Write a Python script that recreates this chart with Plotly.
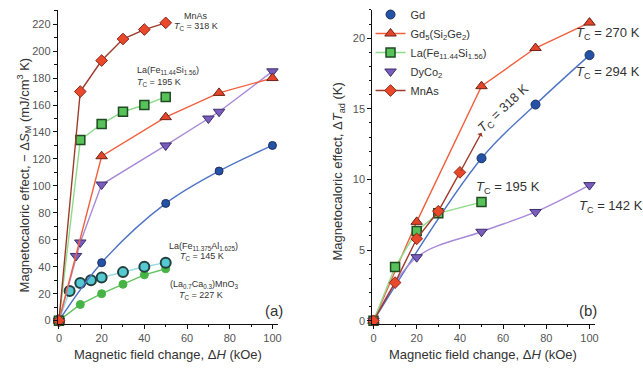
import plotly.graph_objects as go

# ---------------- Panel (a): isothermal entropy change, -dS_M (mJ/cm^3 K) ----------------
mnas_H = [0, 10, 20, 30, 40, 50]
mnas_dS = [0, 170, 193, 209, 216, 221]

lafesi_H = [0, 10, 20, 30, 40, 50]
lafesi_dS = [0, 134, 146, 155, 160, 166]

gdsige_H = [0, 20, 50, 75, 100]
gdsige_dS = [0, 122, 151, 169, 180]

dyco2_H = [0, 8, 10, 20, 50, 70, 75, 100]
dyco2_dS = [0, 48, 58, 101, 130, 150, 155, 185]

gd_H = [0, 20, 50, 75, 100]
gd_dS = [0, 43, 87, 111, 130]

lafeal_H = [0, 5, 10, 15, 20, 30, 40, 50]
lafeal_dS = [0, 22, 28, 30, 32, 36, 40, 43]

lacamno_H = [0, 10, 20, 30, 40, 50]
lacamno_dS = [0, 12, 20, 27, 34, 38.5]

# ---------------- Panel (b): adiabatic temperature change, dT_ad (K) ----------------
gd_T_H = [0, 50, 75, 100]
gd_T = [0, 11.5, 15.3, 18.8]

gdsige_T_H = [0, 20, 50, 75, 100]
gdsige_T = [0, 7.0, 16.6, 19.3, 21.1]

lafesi_T_H = [0, 10, 20, 30, 50]
lafesi_T = [0, 3.8, 6.35, 7.6, 8.4]

dyco2_T_H = [0, 20, 50, 75, 100]
dyco2_T = [0, 4.5, 6.3, 7.7, 9.6]

mnas_T_H = [0, 10, 20, 30, 40]
mnas_T = [0, 2.7, 5.8, 7.75, 10.5]
mnas_T_trend = (50, 13.3)   # end of the extrapolation arrow

# ---------------- styles ----------------
C_MNAS_LINE, C_MNAS_FILL = "#9e3a2c", "#e9482a"
C_GSG_LINE, C_GSG_FILL = "#f0603f", "#e3452a"
C_LFS_LINE, C_LFS_FILL = "#8edb8a", "#58c25a"
C_DY_LINE, C_DY_FILL = "#a98ad8", "#7a5cbc"
C_GD_LINE, C_GD_FILL = "#4f74c6", "#2452a6"
C_LFA_LINE, C_LFA_FILL = "#98dbe2", "#55c9d2"
C_LCM_LINE, C_LCM_FILL = "#62c262", "#45b445"

FONT = "Liberation Sans, Arial, sans-serif"
W, H = 643, 370

fig = go.Figure()


def add(x, y, name, line_c, fill_c, symbol, size=9, edge="#3a2a2a", edge_w=1,
        xa="x", ya="y", legend=False, mode="lines+markers", shape="linear"):
    fig.add_trace(go.Scatter(
        x=x, y=y, name=name, mode=mode, xaxis=xa, yaxis=ya,
        showlegend=legend, cliponaxis=False,
        line=dict(color=line_c, width=1.4, shape=shape),
        marker=dict(symbol=symbol, size=size, color=fill_c,
                    line=dict(color=edge, width=edge_w)),
    ))


# panel (a)
add(lacamno_H, lacamno_dS, "(La0.7Ca0.3)MnO3", C_LCM_LINE, C_LCM_FILL, "circle", 8, edge=C_LCM_FILL)
add(lafeal_H, lafeal_dS, "La(Fe11.375Al1.625)", C_LFA_LINE, C_LFA_FILL, "circle", 10, edge="#23403f", edge_w=2)
add(gd_H, gd_dS, "Gd", C_GD_LINE, C_GD_FILL, "circle", 8, edge="#1d2f60", shape="spline")
add(dyco2_H, dyco2_dS, "DyCo2", C_DY_LINE, C_DY_FILL, "triangle-down", 10, edge="#3a2f6a")
add(gdsige_H, gdsige_dS, "Gd5(Si2Ge2)", C_GSG_LINE, C_GSG_FILL, "triangle-up", 10, edge="#6a2416")
add(lafesi_H, lafesi_dS, "La(Fe11.44Si1.56)", C_LFS_LINE, C_LFS_FILL, "square", 9, edge="#1f4a22", edge_w=1.5)
add(mnas_H, mnas_dS, "MnAs", C_MNAS_LINE, C_MNAS_FILL, "diamond", 9, edge="#8a2a1e")

# panel (b): smooth fit curves drawn beneath the legend traces
add(gd_T_H, gd_T, "Gd fit", C_GD_LINE, C_GD_FILL, "circle", xa="x2", ya="y2", mode="lines", shape="spline")
add(dyco2_T_H, dyco2_T, "DyCo2 fit", C_DY_LINE, C_DY_FILL, "circle", xa="x2", ya="y2", mode="lines", shape="spline")

add(gd_T_H, gd_T, "Gd", C_GD_LINE, C_GD_FILL, "circle", 9, edge="#1d2f60",
    xa="x2", ya="y2", legend=True, mode="markers")
add(gdsige_T_H, gdsige_T, "Gd<sub>5</sub>(Si<sub>2</sub>Ge<sub>2</sub>)", C_GSG_LINE, C_GSG_FILL,
    "triangle-up", 10, edge="#6a2416", xa="x2", ya="y2", legend=True)
add(lafesi_T_H, lafesi_T, "La(Fe<sub>11.44</sub>Si<sub>1.56</sub>)", C_LFS_LINE, C_LFS_FILL,
    "square", 9, edge="#1f4a22", edge_w=1.5, xa="x2", ya="y2", legend=True)
add(dyco2_T_H, dyco2_T, "DyCo<sub>2</sub>", C_DY_LINE, C_DY_FILL, "triangle-down", 10,
    edge="#3a2f6a", xa="x2", ya="y2", legend=True, mode="markers")
add(mnas_T_H, mnas_T, "MnAs", C_MNAS_LINE, C_MNAS_FILL, "diamond", 9, edge="#8a2a1e",
    xa="x2", ya="y2", legend=True)

# ---------------- axes ----------------
axis_common = dict(
    showline=True, linecolor="#111", linewidth=1.2, mirror=False,
    showgrid=False, zeroline=False, ticks="outside", ticklen=4, tickwidth=1,
    tickcolor="#111", tickfont=dict(family=FONT, size=11, color="#555"),
)
ydom = [(H - 326) / H, (H - 8) / H]

fig.update_layout(
    xaxis=dict(axis_common, domain=[56.4 / W, 278.4 / W], range=[-0.5, 102.5],
               tickvals=[0, 20, 40, 60, 80, 100],
               minor=dict(ticks="outside", ticklen=2.5, dtick=10, tickcolor="#111"),
               anchor="y"),
    yaxis=dict(axis_common, domain=ydom, range=[-2.2, 230.6],
               tickvals=list(range(0, 221, 20)),
               minor=dict(ticks="outside", ticklen=2.5, dtick=10, tickcolor="#111"),
               anchor="x"),
    xaxis2=dict(axis_common, domain=[373.9 / W, 598.5 / W], range=[-0.5, 102.5],
                tickvals=[0, 20, 40, 60, 80, 100],
                minor=dict(ticks="outside", ticklen=2.5, dtick=10, tickcolor="#111"),
                anchor="y2"),
    yaxis2=dict(axis_common, domain=ydom, range=[-0.2, 22.0],
                tickvals=[0, 5, 10, 15, 20],
                minor=dict(ticks="outside", ticklen=2.5, dtick=1, tickcolor="#111"),
                anchor="x2"),
    width=W, height=H,
    margin=dict(l=0, r=0, t=0, b=0),
    paper_bgcolor="white", plot_bgcolor="white",
    legend=dict(x=372 / W, y=(H + 2) / H, xanchor="left", yanchor="top",
                bgcolor="rgba(0,0,0,0)", font=dict(family=FONT, size=11, color="#333"),
                itemwidth=30, tracegroupgap=0),
)

# ---------------- text ----------------
ann = []


def label(x, y, text, size=9, ref="", xanchor="center", angle=0):
    ann.append(dict(x=x, y=y, xref="x" + ref, yref="y" + ref, text=text, showarrow=False,
                    xanchor=xanchor, yanchor="middle", textangle=angle,
                    font=dict(family=FONT, size=size, color="#333")))


TC = "<i>T</i><sub>C</sub> = "
label(64.3, 226, "MnAs")
label(64, 218, TC + "318 K")
label(51, 185.5, "La(Fe<sub>11.44</sub>Si<sub>1.56</sub>)")
label(47, 177, TC + "195 K")
label(110, 204.5, "DyCo<sub>2</sub>")
label(111, 195, TC + "142 K")
label(109, 169, "Gd<sub>5</sub>(Si<sub>2</sub>Ge<sub>2</sub>)")
label(109, 160, TC + "270 K")
label(110.7, 125, "Gd")
label(110.7, 118, TC + "294 K")
label(67.5, 55, "La(Fe<sub>11.375</sub>Al<sub>1.625</sub>)")
label(67, 47.5, TC + "145 K")
label(68, 27, "(La<sub>0.7</sub>Ca<sub>0.3</sub>)MnO<sub>3</sub>")
label(66.6, 19, TC + "227 K")
label(100.5, 7.3, "(a)", size=15)

label(93, 20.35, TC + "270 K", size=13, ref="2", xanchor="left")
label(93, 17.55, TC + "294 K", size=13, ref="2", xanchor="left")
label(46.5, 9.45, TC + "195 K", size=13, ref="2", xanchor="left")
label(94, 8.1, TC + "142 K", size=13, ref="2", xanchor="left")
label(60.5, 15.0, TC + "318 K", size=13, ref="2", angle=-43)
label(99.5, 0.75, "(b)", size=15, ref="2")

# MnAs extrapolation arrow in panel (b)
ann.append(dict(x=mnas_T_trend[0], y=mnas_T_trend[1], xref="x2", yref="y2",
                ax=mnas_T_H[-1], ay=mnas_T[-1], axref="x2", ayref="y2",
                text="", showarrow=True, arrowhead=1, arrowsize=0.8, arrowwidth=1.3,
                arrowcolor=C_MNAS_LINE, standoff=0, startstandoff=0))

# axis titles
title_font = dict(family=FONT, size=13, color="#333")
paper_txt = dict(xref="paper", yref="paper", showarrow=False,
                 xanchor="center", yanchor="middle", font=title_font)
ann += [
    dict(paper_txt, x=168 / W, y=(H - 357) / H,
         text="Magnetic field change, Δ<i>H</i> (kOe)"),
    dict(paper_txt, x=486 / W, y=(H - 357) / H,
         text="Magnetic field change, Δ<i>H</i> (kOe)"),
    dict(paper_txt, x=22 / W, y=(H - 175) / H, textangle=-90,
         text="Magnetocaloric effect, − Δ<i>S</i><sub>M</sub> (mJ/cm<sup>3</sup> K)"),
    dict(paper_txt, x=340 / W, y=(H - 172) / H, textangle=-90,
         text="Magnetocaloric effect, Δ<i>T</i><sub>ad</sub> (K)"),
]
fig.update_layout(annotations=ann)

fig.write_html("out.html")
